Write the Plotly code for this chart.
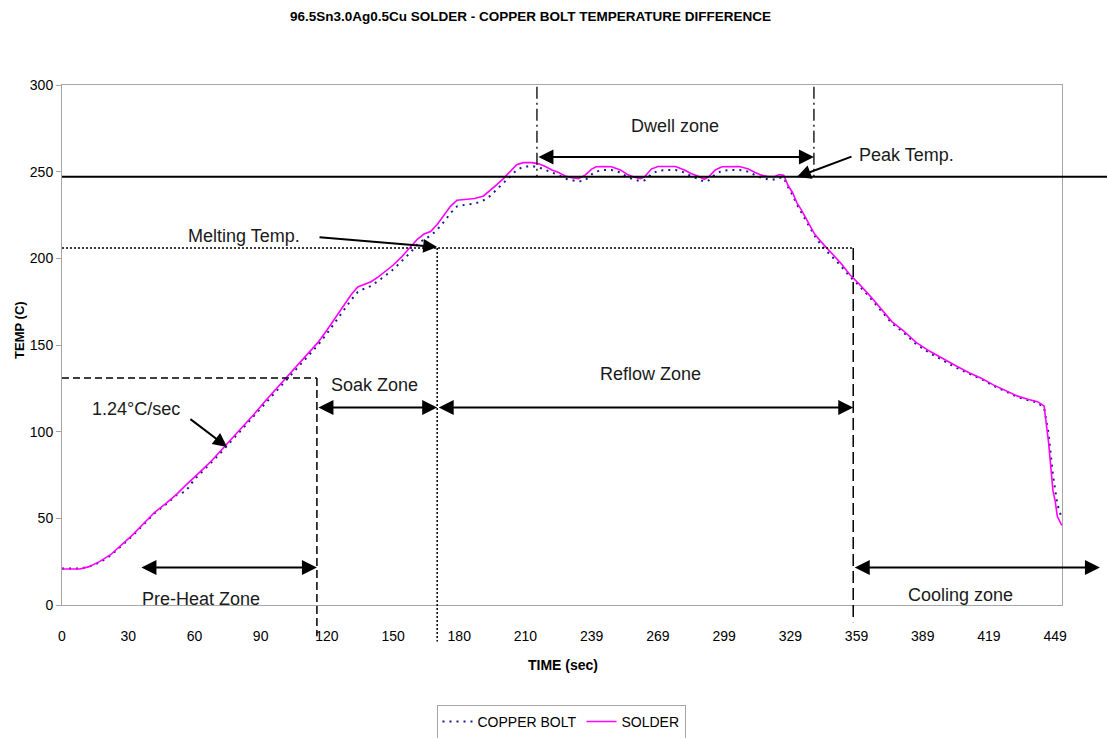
import plotly.graph_objects as go

# Sample index (one reading per second) and measured temperatures
sample_idx = [0, 4, 8, 12, 17, 22, 27, 32, 37, 42, 47, 52, 56, 60, 64, 68, 72, 77, 82, 87,
              92, 97, 102, 107, 112, 116, 120, 124, 128, 131, 134, 137, 140, 143, 146, 150,
              154, 158, 161, 164, 167, 170, 173, 176, 179, 183, 187, 191, 194, 197, 200, 203,
              206, 209, 213, 216, 219, 222, 225, 228, 231, 234, 237, 240, 242, 245, 249, 253,
              256, 259, 262, 264, 267, 270, 274, 278, 282, 285, 288, 291, 293, 296, 299, 303,
              307, 311, 314, 317, 320, 323, 325, 327, 329, 331, 333, 335, 337, 339, 341, 344,
              347, 350, 353, 357, 361, 366, 371, 376, 381, 387, 393, 399, 405, 411, 417, 422,
              428, 433, 438, 442, 445, 447, 449, 450, 451, 452, 453]

solder = [20.8, 20.6, 20.8, 22.0, 25.0, 29.0, 34.5, 40.5, 47.0, 53.5, 58.5, 64.0, 69.0, 73.5,
          78.5, 83.5, 89.0, 96.0, 103.0, 110.0, 117.5, 124.5, 131.5, 138.5, 146.0, 151.5,
          158.5, 166.0, 173.5, 179.0, 183.5, 185.0, 186.5, 189.0, 192.0, 196.0, 201.0, 206.5,
          211.0, 214.0, 215.5, 219.5, 224.5, 230.0, 233.5, 234.0, 234.5, 236.0, 239.0, 242.5,
          246.0, 250.0, 254.0, 255.2, 255.2, 254.5, 253.0, 251.0, 249.5, 247.5, 246.5, 246.0,
          248.0, 251.5, 252.8, 253.0, 252.8, 251.0, 248.5, 247.0, 246.0, 247.0, 251.5, 253.0,
          253.0, 253.0, 251.0, 249.0, 247.5, 245.6, 247.0, 251.0, 252.8, 253.0, 253.0, 251.5,
          249.5, 248.0, 247.2, 247.2, 248.3, 248.0, 242.0, 238.0, 232.0, 228.0, 223.5, 219.0,
          214.0, 209.5, 205.5, 201.5, 197.0, 190.5, 185.5, 178.5, 171.0, 163.5, 158.5, 151.5,
          146.5, 142.0, 138.0, 134.0, 130.5, 127.0, 123.5, 120.5, 118.5, 117.3, 114.8, 94.0,
          66.0, 60.0, 51.0, 48.0, 46.0]

copper_bolt = [21.0, 20.8, 21.0, 22.0, 24.5, 28.5, 34.0, 40.0, 46.5, 53.0, 58.0, 63.5, 65.5,
               72.5, 77.5, 82.5, 88.0, 95.0, 102.0, 109.0, 116.5, 123.5, 130.5, 137.5, 144.5,
               150.0, 156.5, 163.5, 170.5, 176.0, 180.5, 182.5, 184.0, 186.5, 189.5, 193.5,
               198.5, 203.5, 208.0, 211.0, 213.0, 216.5, 221.0, 226.0, 230.0, 231.0, 231.5,
               233.5, 236.0, 240.0, 243.5, 247.0, 251.0, 252.8, 253.2, 252.5, 251.0, 249.5,
               248.0, 246.0, 245.0, 244.3, 245.0, 248.5, 250.0, 251.0, 251.0, 249.5, 247.0,
               245.5, 244.5, 245.0, 248.5, 250.5, 251.0, 251.0, 249.5, 247.5, 246.0, 244.2,
               245.0, 248.5, 250.5, 251.0, 251.0, 250.0, 248.0, 246.5, 245.5, 245.5, 246.5,
               246.5, 241.0, 236.5, 231.0, 226.5, 222.0, 217.5, 213.0, 207.5, 203.5, 199.5,
               195.5, 189.5, 184.5, 177.5, 170.0, 162.5, 157.5, 150.5, 145.5, 141.0, 137.0,
               133.5, 130.0, 126.5, 123.0, 120.0, 118.0, 116.8, 113.5, 99.0, 75.0, 66.0,
               58.0, 54.0, 50.0]

# Category labels shown every 30 samples (elapsed time in seconds)
tick_pos = [0, 30, 60, 90, 120, 150, 180, 210, 240, 270, 300, 330, 360, 390, 420, 450]
tick_text = ["0", "30", "60", "90", "120", "150", "180", "210", "239", "269", "299",
             "329", "359", "389", "419", "449"]

# Profile reference levels (deg C) and zone boundaries (sample index)
PEAK_TEMP = 247
MELT_TEMP = 206
PREHEAT_TEMP = 131
PREHEAT_END = 115.5
SOAK_END = 170
REFLOW_END = 358.5
DWELL_START = 215.2
DWELL_END = 340.7

X_RANGE = [0, 453.1]
Y_RANGE = [0, 300]


def y_paper(v):
    return (v - Y_RANGE[0]) / (Y_RANGE[1] - Y_RANGE[0])


NARROW = "Liberation Sans Narrow, Arial Narrow, Liberation Sans, Arial, sans-serif"
REG = "Liberation Sans, Arial, sans-serif"

fig = go.Figure()
fig.add_trace(go.Scatter(x=sample_idx, y=copper_bolt, name="COPPER BOLT", mode="lines",
                         line=dict(color="#1a1a8c", width=2, dash="2px,5px")))
fig.add_trace(go.Scatter(x=sample_idx, y=solder, name="SOLDER", mode="lines",
                         line=dict(color="#ff00ff", width=1.6)))

shapes = [
    # peak temperature line runs across to the edge of the figure
    dict(type="line", xref="paper", yref="y", x0=0, x1=1.045, y0=PEAK_TEMP, y1=PEAK_TEMP,
         line=dict(color="black", width=2)),
    # melting temperature
    dict(type="line", xref="x", yref="y", x0=0, x1=REFLOW_END, y0=MELT_TEMP, y1=MELT_TEMP,
         line=dict(color="black", width=1.5, dash="2px,2px")),
    dict(type="line", xref="x", yref="paper", x0=SOAK_END, x1=SOAK_END,
         y0=y_paper(MELT_TEMP), y1=y_paper(-21), line=dict(color="black", width=1.5, dash="2px,2px")),
    # pre-heat limit
    dict(type="line", xref="x", yref="y", x0=0, x1=PREHEAT_END, y0=PREHEAT_TEMP, y1=PREHEAT_TEMP,
         line=dict(color="black", width=1.5, dash="7px,4px")),
    dict(type="line", xref="x", yref="paper", x0=PREHEAT_END, x1=PREHEAT_END,
         y0=y_paper(PREHEAT_TEMP), y1=y_paper(-18), line=dict(color="black", width=1.5, dash="8px,4px")),
    # end of reflow
    dict(type="line", xref="x", yref="paper", x0=REFLOW_END, x1=REFLOW_END,
         y0=y_paper(MELT_TEMP), y1=y_paper(-10), line=dict(color="black", width=1.5, dash="12px,5px")),
    # dwell limits
    dict(type="line", xref="x", yref="y", x0=DWELL_START, x1=DWELL_START, y0=299, y1=PEAK_TEMP,
         line=dict(color="black", width=1.3, dash="12px,4px,2px,4px")),
    dict(type="line", xref="x", yref="y", x0=DWELL_END, x1=DWELL_END, y0=299, y1=PEAK_TEMP,
         line=dict(color="black", width=1.3, dash="12px,4px,2px,4px")),
]


def span_arrow(x0, x1, y):
    return dict(xref="x", yref="y", axref="x", ayref="y", x=x1, y=y, ax=x0, ay=y, text="",
                showarrow=True, arrowhead=2, startarrowhead=2, arrowside="end+start",
                arrowsize=1.5, startarrowsize=1.5, arrowwidth=2, arrowcolor="black",
                standoff=0, startstandoff=0)


def pointer(x0, y0, x1, y1):
    return dict(xref="x", yref="y", axref="x", ayref="y", x=x1, y=y1, ax=x0, ay=y0, text="",
                showarrow=True, arrowhead=2, arrowsize=1.4, arrowwidth=2, arrowcolor="black",
                standoff=0)


def label(text, x, y, xanchor="center"):
    return dict(xref="x", yref="y", x=x, y=y, text=text, showarrow=False, xanchor=xanchor,
                yanchor="middle", font=dict(family=REG, size=18, color="#1a1a1a"))


annotations = [
    span_arrow(DWELL_START, DWELL_END, 258.5),
    span_arrow(PREHEAT_END, SOAK_END, 114),
    span_arrow(SOAK_END, REFLOW_END, 114),
    span_arrow(35.3, PREHEAT_END, 21.7),
    span_arrow(REFLOW_END, 470.3, 21.7),
    pointer(358.4, 259, 333, 246.9),
    pointer(116, 212.3, SOAK_END, 206.5),
    pointer(57.5, 107.9, 74.8, 91.2),
    label("Dwell zone", 277.8, 276.3),
    label("Peak Temp.", 360.2, 259.6, "left"),
    label("Melting Temp.", 108.7, 213.0, "right"),
    label("1.24°C/sec", 33.5, 113.1),
    label("Soak Zone", 141.7, 126.9),
    label("Reflow Zone", 266.5, 133.3),
    label("Pre-Heat Zone", 62.9, 3.5),
    label("Cooling zone", 407, 5.8),
    dict(xref="paper", yref="paper", x=0.468, y=1.131, showarrow=False,
         xanchor="center", yanchor="middle",
         text="<b>96.5Sn3.0Ag0.5Cu SOLDER - COPPER BOLT TEMPERATURE DIFFERENCE</b>",
         font=dict(family=NARROW, size=13.5, color="black")),
    dict(xref="paper", yref="paper", x=0.501, y=-0.115, showarrow=False,
         xanchor="center", yanchor="middle",
         text="<b>TIME (sec)</b>", font=dict(family=NARROW, size=14, color="black")),
    dict(xref="paper", yref="paper", x=-0.042, y=0.529, showarrow=False, textangle=-90,
         xanchor="center", yanchor="middle",
         text="<b>TEMP (C)</b>", font=dict(family=REG, size=13, color="black")),
]

fig.update_layout(
    width=1107, height=738,
    margin=dict(l=62, r=45, t=85, b=133, autoexpand=False),
    paper_bgcolor="white", plot_bgcolor="white",
    showlegend=True,
    legend=dict(orientation="h", x=0.499, xanchor="center", y=-0.192, yanchor="top",
                bordercolor="#a6a6a6", borderwidth=1, font=dict(family=NARROW, size=14, color="black"),
                itemwidth=30),
    shapes=shapes,
    annotations=annotations,
)
fig.update_xaxes(range=X_RANGE, tickmode="array", tickvals=tick_pos, ticktext=tick_text,
                 showgrid=False, zeroline=False, showline=True, linecolor="#a6a6a6", linewidth=1,
                 mirror=True, ticks="", ticklabelstandoff=18,
                 tickfont=dict(family=NARROW, size=14, color="black"))
fig.update_yaxes(range=Y_RANGE, tickvals=[0, 50, 100, 150, 200, 250, 300], showgrid=False,
                 zeroline=False, showline=True, linecolor="#a6a6a6", linewidth=1, mirror=True,
                 ticks="outside", ticklen=5, tickcolor="#a6a6a6",
                 tickfont=dict(family=NARROW, size=14, color="black"))

fig.write_html("out.html")
